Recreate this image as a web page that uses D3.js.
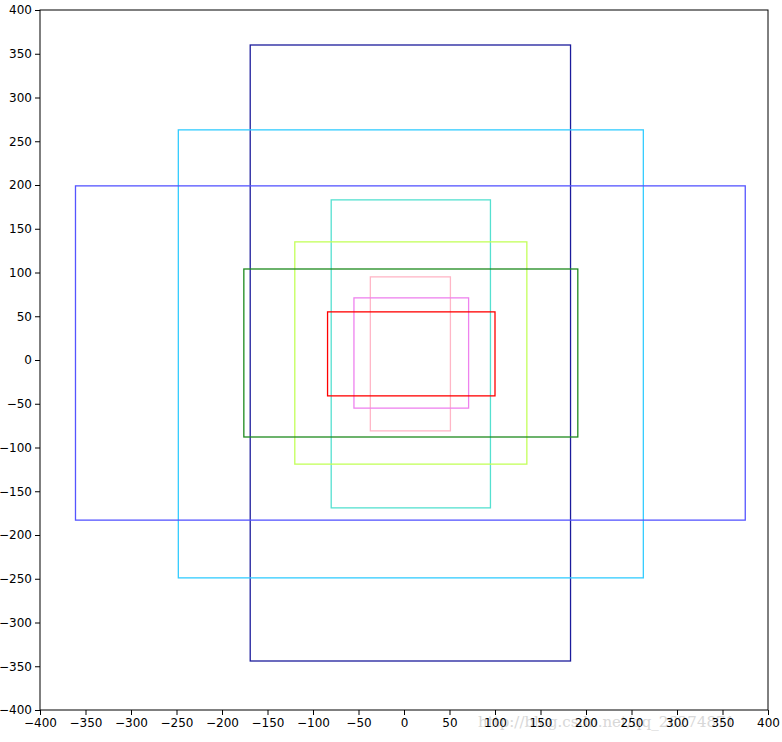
<!DOCTYPE html>
<html>
<head>
<meta charset="utf-8">
<script src="https://cdn.jsdelivr.net/npm/d3@7"></script>
<style>
  body { margin: 0; background: #fff; }
  svg { display: block; }
  .tick text { font-family: "DejaVu Sans", sans-serif; font-size: 12px; fill: #000; }
</style>
</head>
<body>
<svg id="chart" width="782" height="742"></svg>
<script>
// Rectangles: [x0, y0, x1, y1] in data units
const names = ["navy", "deepskyblue", "blue", "turquoise", "greenyellow", "green", "pink", "violet", "red"];
const x0s = [-169, -248, -361, -80, -120, -176, -37, -55, -84];
const x1s = [183, 263, 375, 95, 135, 191, 51, 71, 100];
const y0s = [-344, -249, -183, -169, -119, -88, -81, -55, -41];
const y1s = [360, 263, 199, 183, 135, 104, 95, 71, 55];
const colors = ["#1c1c9c", "#33ccff", "#5555ff", "#55e0d0", "#c3ff5a", "#1e8a1e", "#ffb6c6", "#ee82ee", "#ff0000"];
const ticks = d3.range(-400, 401, 50);

const svg = d3.select("#chart");
const x = d3.scaleLinear().domain([-400, 400]).range([40, 768]);
const y = d3.scaleLinear().domain([-400, 400]).range([710, 10]);

const fmt = d => (d < 0 ? "\u2212" + Math.abs(d) : String(d));

// watermark
svg.append("text")
  .attr("x", 478).attr("y", 727)
  .attr("font-family", "DejaVu Serif, serif")
  .attr("font-size", 15)
  .attr("fill", "#d8d8d8")
  .text("http://blog.csdn.net/qq_26274871");

const rects = names.map((n, i) => ({ n, x0: x0s[i], x1: x1s[i], y0: y0s[i], y1: y1s[i], c: colors[i] }));
svg.append("g").selectAll("rect").data(rects).join("rect")
  .attr("x", d => x(d.x0))
  .attr("y", d => y(d.y1))
  .attr("width", d => x(d.x1) - x(d.x0))
  .attr("height", d => y(d.y0) - y(d.y1))
  .attr("fill", "none")
  .attr("stroke", d => d.c)
  .attr("stroke-width", 1.3);

const xAxis = d3.axisBottom(x).tickValues(ticks).tickFormat(fmt).tickSize(5).tickPadding(3);
const yAxis = d3.axisLeft(y).tickValues(ticks).tickFormat(fmt).tickSize(5).tickPadding(3);

const gx = svg.append("g").attr("transform", "translate(0,710)").call(xAxis);
const gy = svg.append("g").attr("transform", "translate(40,0)").call(yAxis);
[gx, gy].forEach(g => {
  g.select(".domain").remove();
  g.selectAll(".tick line").attr("stroke", "#000").attr("stroke-width", 1);
});

// frame
svg.append("rect")
  .attr("x", x(-400)).attr("y", y(400))
  .attr("width", x(400) - x(-400)).attr("height", y(-400) - y(400))
  .attr("fill", "none").attr("stroke", "#000").attr("stroke-width", 1);
</script>
</body>
</html>
